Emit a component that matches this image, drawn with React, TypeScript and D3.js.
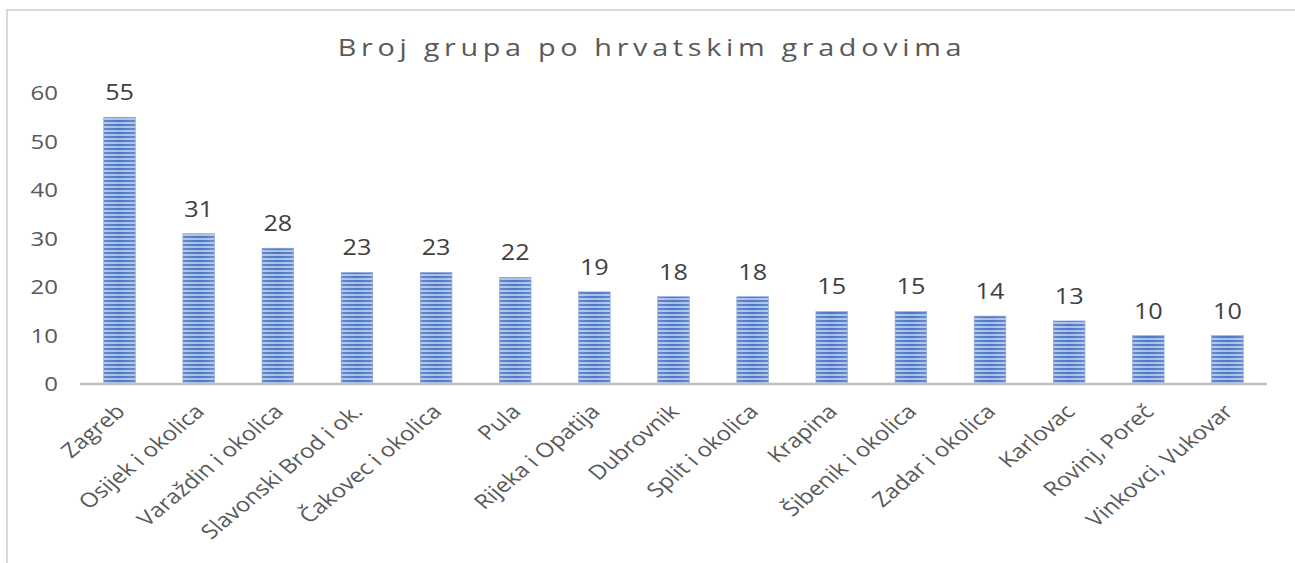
import React from "react";
import * as d3 from "d3";

const categories = [
  "Zagreb",
  "Osijek i okolica",
  "Varaždin i okolica",
  "Slavonski Brod i ok.",
  "Čakovec i okolica",
  "Pula",
  "Rijeka i Opatija",
  "Dubrovnik",
  "Split i okolica",
  "Krapina",
  "Šibenik i okolica",
  "Zadar i okolica",
  "Karlovac",
  "Rovinj, Poreč",
  "Vinkovci, Vukovar",
];
const values = [55, 31, 28, 23, 23, 22, 19, 18, 18, 15, 15, 14, 13, 10, 10];
const yTicks = [0, 10, 20, 30, 40, 50, 60];
const title = "Broj grupa po hrvatskim gradovima";

const W = 1295;
const H = 563;
const FONT = "'Open Sans', 'Noto Sans', sans-serif";
const SX = 1.2;

export default function App() {
  const x = d3.scaleBand<string>().domain(categories).range([80, 1267]).paddingInner(0.6).paddingOuter(0.3);
  const y = d3.scaleLinear().domain([0, 60]).range([384, 93]);
  const bw = x.bandwidth();

  return (
    <svg
      width={W}
      height={H}
      style={{ position: "absolute", left: 0, top: 0, background: "#fff" }}
      fontFamily={FONT}
    >
      <defs>
        <pattern id="stripes" width="8" height="4" patternUnits="userSpaceOnUse">
          <rect x="0" y="0" width="8" height="4" fill="#a8bfe8" />
          <rect x="0" y="0" width="8" height="2" fill="#4a76c6" />
        </pattern>
        <linearGradient id="shade" x1="0" x2="1" y1="0" y2="0">
          <stop offset="0" stopColor="#ffffff" stopOpacity="0.15" />
          <stop offset="0.5" stopColor="#ffffff" stopOpacity="0" />
          <stop offset="1" stopColor="#ffffff" stopOpacity="0.15" />
        </linearGradient>
      </defs>
      <rect x={0} y={0} width={W} height={H} fill="#fff" />
      {/* chart border */}
      <line x1={7} x2={W} y1={10} y2={10} stroke="#d9d9d9" strokeWidth={2} />
      <line x1={7} x2={7} y1={9} y2={H} stroke="#d9d9d9" strokeWidth={2} />

      <text
        transform={`translate(652,56) scale(${SX},1)`}
        textAnchor="middle"
        fontSize={24}
        letterSpacing={3.9}
        fill="#595959"
      >
        {title}
      </text>

      {yTicks.map((t) => (
        <text
          key={t}
          transform={`translate(58,${y(t)}) scale(${SX},1)`}
          dy="0.36em"
          textAnchor="end"
          fontSize={20}
          fill="#595959"
        >
          {t}
        </text>
      ))}

      {categories.map((c, i) => {
        const bx = x(c)!;
        const by = y(values[i]);
        const bh = y(0) - by;
        return (
          <g key={c}>
            <rect x={bx} y={by} width={bw} height={bh} fill="url(#stripes)" />
            <rect x={bx} y={by} width={bw} height={bh} fill="url(#shade)" stroke="#8eaadb" strokeWidth={0.6} />
            <text
              transform={`translate(${bx + bw / 2},${by - 17}) scale(${SX},1)`}
              textAnchor="middle"
              fontSize={21}
              fill="#404040"
            >
              {values[i]}
            </text>
          </g>
        );
      })}

      <line x1={80} x2={1267} y1={384} y2={384} stroke="#bfbfbf" strokeWidth={2.5} />

      {categories.map((c) => {
        const cx = x(c)! + bw / 2 + 1;
        const cy = 408;
        return (
          <text
            key={c}
            transform={`translate(${cx},${cy}) scale(${SX},1) rotate(-45)`}
            textAnchor="end"
            dy="0.35em"
            fontSize={20}
            fill="#595959"
          >
            {c}
          </text>
        );
      })}
    </svg>
  );
}
